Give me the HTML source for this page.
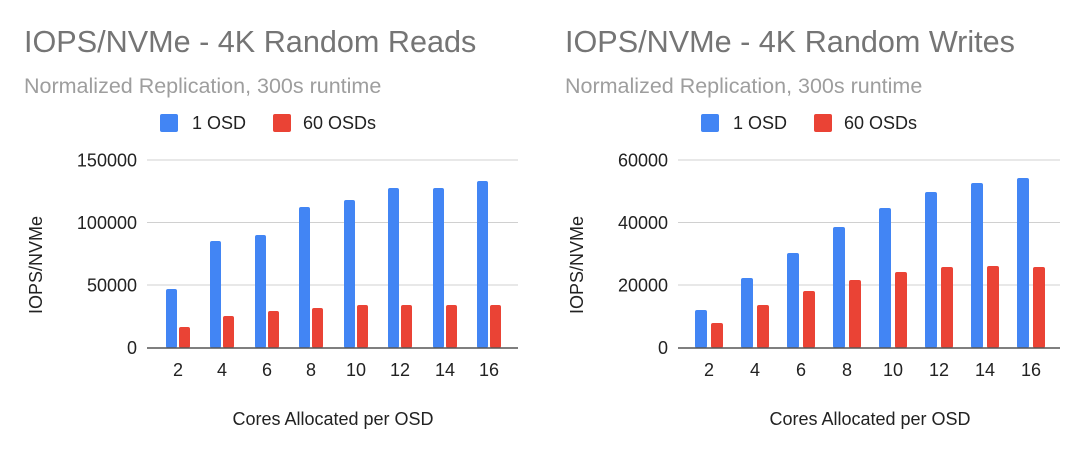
<!DOCTYPE html>
<html><head><meta charset="utf-8"><style>
html,body{margin:0;padding:0;background:#fff;}
svg{display:block;font-family:"Liberation Sans",Arial,sans-serif;}
</style></head><body>
<svg width="1084" height="452" viewBox="0 0 1084 452" xmlns="http://www.w3.org/2000/svg">
<rect width="1084" height="452" fill="#fff"/>
<!-- Left chart -->
<text x="24" y="52" font-size="30.6" fill="#757575">IOPS/NVMe - 4K Random Reads</text>
<text x="24" y="93" font-size="21.5" fill="#9e9e9e">Normalized Replication, 300s runtime</text>
<rect x="160" y="114" width="18" height="18" rx="2" fill="#4285f4"/>
<text x="192" y="129" font-size="18" fill="#222">1 OSD</text>
<rect x="273" y="114" width="18" height="18" rx="2" fill="#ea4335"/>
<text x="303" y="129" font-size="18" fill="#222">60 OSDs</text>
<g stroke="#d0d0d0" stroke-width="1">
<line x1="147" y1="160" x2="518" y2="160"/><line x1="147" y1="222.5" x2="518" y2="222.5"/><line x1="147" y1="285" x2="518" y2="285"/>
</g>
<g font-size="18" fill="#222" text-anchor="end">
<text x="137" y="166.5">150000</text><text x="137" y="229">100000</text><text x="137" y="291.5">50000</text><text x="137" y="354">0</text>
</g>
<text transform="translate(42,265) rotate(-90)" font-size="18" fill="#222" text-anchor="middle">IOPS/NVMe</text>
<g fill="#4285f4">
<rect x="166" y="289" width="11" height="59" rx="2"/>
<rect x="210" y="241" width="11" height="107" rx="2"/>
<rect x="255" y="235" width="11" height="113" rx="2"/>
<rect x="299" y="207" width="11" height="141" rx="2"/>
<rect x="344" y="200" width="11" height="148" rx="2"/>
<rect x="388" y="188" width="11" height="160" rx="2"/>
<rect x="433" y="188" width="11" height="160" rx="2"/>
<rect x="477" y="181" width="11" height="167" rx="2"/>
</g>
<g fill="#ea4335">
<rect x="179" y="327" width="11" height="21" rx="2"/>
<rect x="223" y="316" width="11" height="32" rx="2"/>
<rect x="268" y="311" width="11" height="37" rx="2"/>
<rect x="312" y="308" width="11" height="40" rx="2"/>
<rect x="357" y="305" width="11" height="43" rx="2"/>
<rect x="401" y="305" width="11" height="43" rx="2"/>
<rect x="446" y="305" width="11" height="43" rx="2"/>
<rect x="490" y="305" width="11" height="43" rx="2"/>
</g>
<line x1="147" y1="348" x2="518" y2="348" stroke="#555" stroke-width="1.5"/>
<g font-size="18" fill="#222" text-anchor="middle">
<text x="178" y="376">2</text><text x="222" y="376">4</text><text x="267" y="376">6</text><text x="311" y="376">8</text>
<text x="356" y="376">10</text><text x="400" y="376">12</text><text x="445" y="376">14</text><text x="489" y="376">16</text>
</g>
<text x="333" y="425" font-size="18" fill="#222" text-anchor="middle">Cores Allocated per OSD</text>

<!-- Right chart -->
<text x="565" y="52" font-size="30.6" fill="#757575">IOPS/NVMe - 4K Random Writes</text>
<text x="565" y="93" font-size="21.5" fill="#9e9e9e">Normalized Replication, 300s runtime</text>
<rect x="701" y="114" width="18" height="18" rx="2" fill="#4285f4"/>
<text x="733" y="129" font-size="18" fill="#222">1 OSD</text>
<rect x="814" y="114" width="18" height="18" rx="2" fill="#ea4335"/>
<text x="844" y="129" font-size="18" fill="#222">60 OSDs</text>
<g stroke="#d0d0d0" stroke-width="1">
<line x1="678" y1="160" x2="1060" y2="160"/><line x1="678" y1="222.5" x2="1060" y2="222.5"/><line x1="678" y1="285" x2="1060" y2="285"/>
</g>
<g font-size="18" fill="#222" text-anchor="end">
<text x="668" y="166.5">60000</text><text x="668" y="229">40000</text><text x="668" y="291.5">20000</text><text x="668" y="354">0</text>
</g>
<text transform="translate(583,265) rotate(-90)" font-size="18" fill="#222" text-anchor="middle">IOPS/NVMe</text>
<g fill="#4285f4">
<rect x="695" y="310" width="12" height="38" rx="2"/>
<rect x="741" y="278" width="12" height="70" rx="2"/>
<rect x="787" y="253" width="12" height="95" rx="2"/>
<rect x="833" y="227" width="12" height="121" rx="2"/>
<rect x="879" y="208" width="12" height="140" rx="2"/>
<rect x="925" y="192" width="12" height="156" rx="2"/>
<rect x="971" y="183" width="12" height="165" rx="2"/>
<rect x="1017" y="178" width="12" height="170" rx="2"/>
</g>
<g fill="#ea4335">
<rect x="711" y="323" width="12" height="25" rx="2"/>
<rect x="757" y="305" width="12" height="43" rx="2"/>
<rect x="803" y="291" width="12" height="57" rx="2"/>
<rect x="849" y="280" width="12" height="68" rx="2"/>
<rect x="895" y="272" width="12" height="76" rx="2"/>
<rect x="941" y="267" width="12" height="81" rx="2"/>
<rect x="987" y="266" width="12" height="82" rx="2"/>
<rect x="1033" y="267" width="12" height="81" rx="2"/>
</g>
<line x1="678" y1="348" x2="1060" y2="348" stroke="#555" stroke-width="1.5"/>
<g font-size="18" fill="#222" text-anchor="middle">
<text x="709" y="376">2</text><text x="755" y="376">4</text><text x="801" y="376">6</text><text x="847" y="376">8</text>
<text x="893" y="376">10</text><text x="939" y="376">12</text><text x="985" y="376">14</text><text x="1031" y="376">16</text>
</g>
<text x="870" y="425" font-size="18" fill="#222" text-anchor="middle">Cores Allocated per OSD</text>
</svg>
</body></html>
